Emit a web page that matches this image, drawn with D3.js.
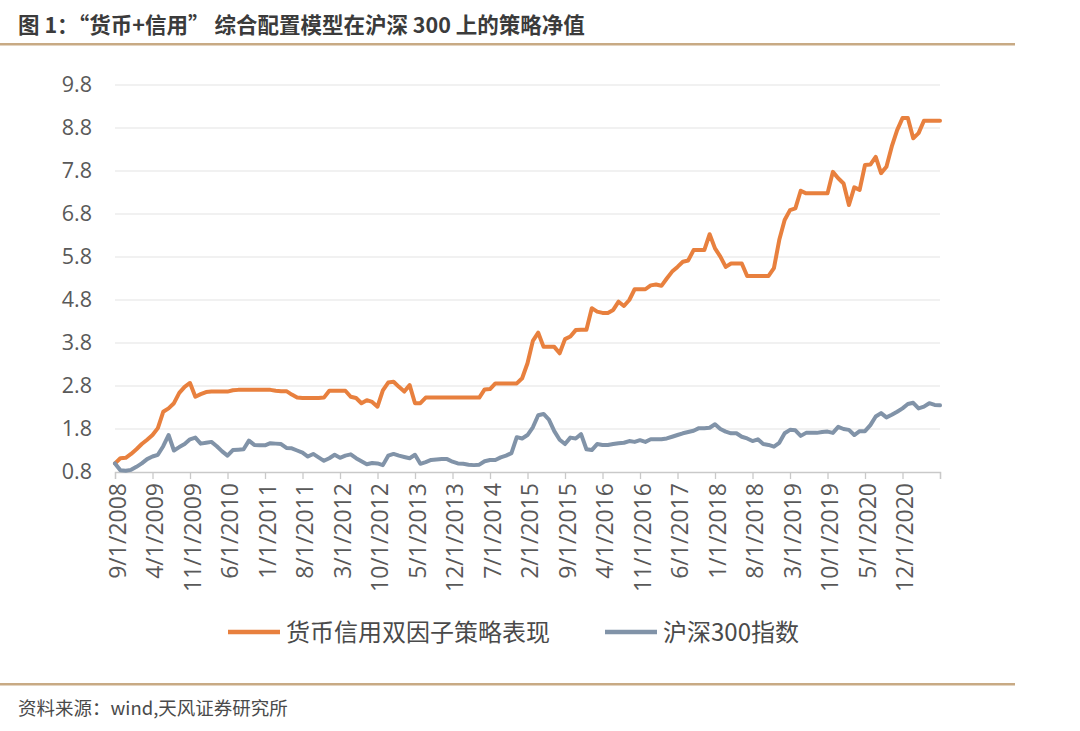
<!DOCTYPE html>
<html><head><meta charset="utf-8">
<script src="https://cdn.jsdelivr.net/npm/d3@7"></script>
<style>
html,body{margin:0;padding:0;background:#fff;}
svg{display:block;}
text{font-family:"Noto Sans CJK SC","Noto Sans",sans-serif;}
</style></head>
<body>
<svg id="chart" width="1080" height="731"></svg>
<script>
// Monthly observations, 2008-09 .. 2021-07
const startMonth = new Date(2008, 8, 1);
const endMonth = new Date(2021, 6, 1);
const months = d3.timeMonth.range(startMonth, d3.timeMonth.offset(endMonth, 1));

const strategyValues = [
1.0,1.12,1.13,1.22,1.33,1.45,1.55,1.66,1.82,2.2,
2.28,2.4,2.64,2.78,2.87,2.55,2.61,2.66,2.67,2.67,
2.67,2.67,2.7,2.71,2.71,2.71,2.71,2.71,2.71,2.71,
2.69,2.68,2.68,2.6,2.53,2.52,2.52,2.52,2.52,2.53,
2.69,2.69,2.69,2.69,2.55,2.52,2.4,2.47,2.43,2.32,
2.7,2.88,2.9,2.78,2.67,2.82,2.4,2.4,2.53,2.53,
2.53,2.53,2.53,2.53,2.53,2.53,2.53,2.53,2.53,2.72,
2.73,2.86,2.86,2.86,2.86,2.86,2.98,3.33,3.85,4.04,
3.71,3.71,3.71,3.56,3.89,3.95,4.1,4.11,4.11,4.61,
4.53,4.5,4.5,4.57,4.76,4.66,4.8,5.05,5.05,5.05,
5.14,5.16,5.13,5.3,5.46,5.57,5.69,5.72,5.96,5.96,
5.96,6.33,6.0,5.81,5.57,5.65,5.65,5.65,5.36,5.36,
5.36,5.36,5.36,5.54,6.2,6.66,6.89,6.93,7.34,7.28,
7.28,7.28,7.28,7.28,7.78,7.63,7.51,7.01,7.42,7.36,
7.94,7.95,8.13,7.75,7.9,8.37,8.75,9.03,9.03,8.56,
8.68,8.97,8.97,8.97,8.97
];

const hs300Values = [
1.0,0.84,0.83,0.85,0.92,1.0,1.1,1.16,1.2,1.4,
1.66,1.3,1.38,1.45,1.56,1.6,1.46,1.48,1.5,1.4,
1.28,1.18,1.31,1.32,1.33,1.53,1.43,1.42,1.42,1.47,
1.46,1.45,1.36,1.35,1.3,1.25,1.16,1.22,1.14,1.06,
1.12,1.2,1.13,1.18,1.21,1.12,1.05,0.98,1.01,1.0,
0.96,1.18,1.22,1.18,1.15,1.12,1.2,0.99,1.03,1.08,
1.09,1.1,1.1,1.04,1.0,0.99,0.97,0.96,0.97,1.05,
1.08,1.08,1.14,1.18,1.24,1.61,1.58,1.66,1.84,2.12,
2.15,2.02,1.75,1.55,1.45,1.6,1.58,1.68,1.33,1.31,
1.45,1.43,1.43,1.45,1.47,1.48,1.52,1.5,1.54,1.5,
1.56,1.56,1.56,1.58,1.62,1.66,1.7,1.73,1.76,1.82,
1.82,1.83,1.91,1.8,1.74,1.7,1.7,1.62,1.58,1.52,
1.56,1.45,1.43,1.39,1.48,1.7,1.78,1.77,1.64,1.71,
1.71,1.71,1.73,1.74,1.71,1.85,1.8,1.78,1.66,1.75,
1.75,1.89,2.09,2.17,2.07,2.13,2.2,2.28,2.38,2.41,
2.28,2.32,2.4,2.36,2.35
];

const yTickValues = [0.8,1.8,2.8,3.8,4.8,5.8,6.8,7.8,8.8,9.8];
const xTickLabels = ["9/1/2008","4/1/2009","11/1/2009","6/1/2010","1/1/2011","8/1/2011","3/1/2012","10/1/2012","5/1/2013","12/1/2013","7/1/2014","2/1/2015","9/1/2015","4/1/2016","11/1/2016","6/1/2017","1/1/2018","8/1/2018","3/1/2019","10/1/2019","5/1/2020","12/1/2020"];
const seriesNames = ["货币信用双因子策略表现","沪深300指数"];
const seriesColors = ["#E8803E","#8193A8"];

const titleText = "图 1：“货币+信用” 综合配置模型在沪深 300 上的策略净值";
const sourceText = "资料来源：wind,天风证券研究所";

const svg = d3.select("#chart");
const plotL = 115, plotR = 940, plotT = 85, plotB = 472;

const x = d3.scaleLinear().domain([0, months.length - 1]).range([plotL, plotR]);
const y = d3.scaleLinear().domain([0.8, 9.8]).range([plotB, plotT]);

// title + rules
svg.append("text").attr("x", 18).attr("y", 33)
  .attr("font-size", 21.5).attr("font-weight", 700).attr("fill", "#3b3b3b")
  .text(titleText);
svg.append("rect").attr("x", 0).attr("y", 43).attr("width", 1015).attr("height", 2.5).attr("fill", "#C8AA84");
svg.append("rect").attr("x", 0).attr("y", 683).attr("width", 1015).attr("height", 2.5).attr("fill", "#C8AA84");
svg.append("text").attr("x", 18).attr("y", 715)
  .attr("font-size", 18.5).attr("fill", "#4a4a4a").text(sourceText);

// gridlines
svg.append("g").selectAll("line").data(yTickValues.slice(1)).join("line")
  .attr("x1", plotL).attr("x2", plotR)
  .attr("y1", d => y(d)).attr("y2", d => y(d))
  .attr("stroke", "#e3e3e3").attr("stroke-width", 1.2);

// y axis
const yAxis = d3.axisLeft(y).tickValues(yTickValues).tickFormat(d3.format(".1f")).tickSize(0).tickPadding(23);
const gy = svg.append("g").attr("transform", `translate(${plotL},0)`).call(yAxis);
gy.select(".domain").remove();
gy.selectAll("text").attr("font-size", 21.5).attr("fill", "#595959")
  .style("font-family", "'Open Sans','Noto Sans',sans-serif");

// x axis: ticks every 7 months
const tickIdx = d3.range(0, months.length, 7);
const xAxis = d3.axisBottom(x).tickValues(tickIdx).tickSize(7).tickFormat(d => { const i = tickIdx.indexOf(d); return i < xTickLabels.length ? xTickLabels[i] : ""; });
const gx = svg.append("g").attr("transform", `translate(0,${plotB})`).call(xAxis);
gx.select(".domain").attr("stroke", "#c9c9c9").attr("stroke-width", 1.3);
gx.selectAll(".tick line").attr("stroke", "#c9c9c9").attr("stroke-width", 1.3);
gx.selectAll("text")
  .attr("font-size", 23).attr("fill", "#595959")
  .style("font-family", "'Open Sans','Noto Sans',sans-serif")
  .attr("text-anchor", "end")
  .attr("transform", "rotate(-90)")
  .attr("x", -11).attr("y", 2).attr("dy", "0.35em");

// lines
const line = d3.line().x((d, i) => x(i)).y(d => y(d)).curve(d3.curveLinear);
[strategyValues, hs300Values].forEach((vals, k) => {
  svg.append("path").datum(vals)
    .attr("fill", "none").attr("stroke", seriesColors[k])
    .attr("stroke-width", 4).attr("stroke-linejoin", "round").attr("stroke-linecap", "round")
    .attr("d", line);
});

// legend
const legendX = [228, 605];
seriesNames.forEach((name, k) => {
  const g = svg.append("g").attr("transform", `translate(${legendX[k]},632)`);
  g.append("line").attr("x1", 0).attr("x2", 52).attr("y1", 0).attr("y2", 0)
    .attr("stroke", seriesColors[k]).attr("stroke-width", 4.5);
  g.append("text").attr("x", 58).attr("y", 0).attr("dy", "0.36em")
    .attr("font-size", 24).attr("fill", "#4a4a4a").text(name);
});
</script>
</body></html>
